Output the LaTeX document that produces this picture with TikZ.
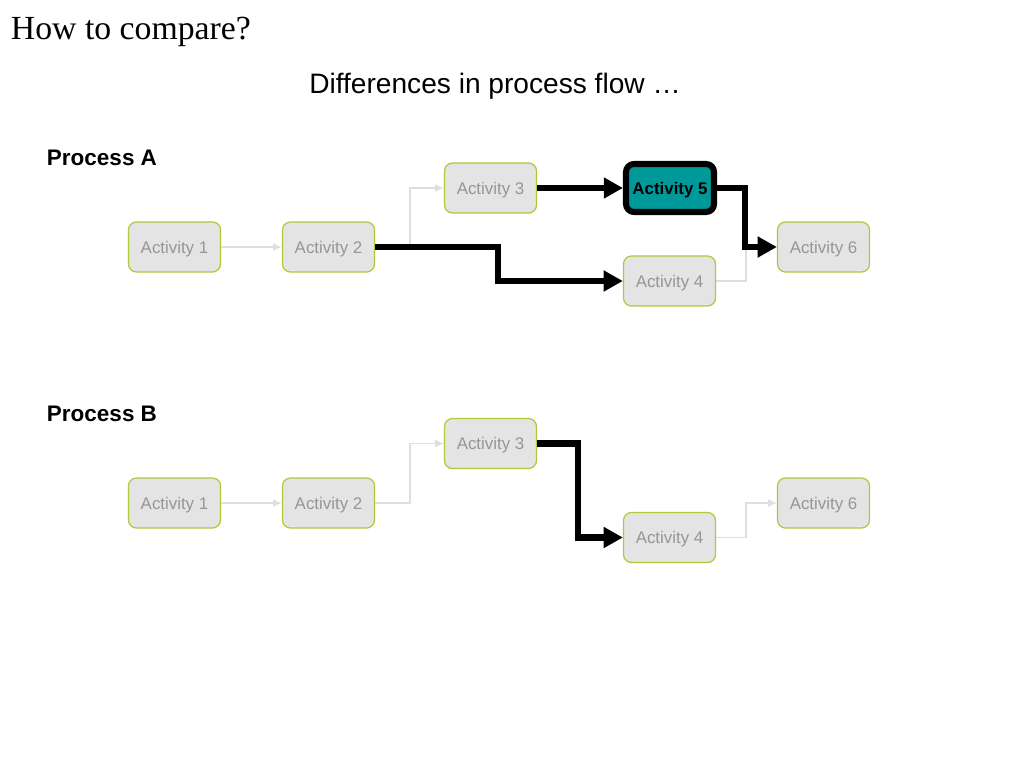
\documentclass[tikz,border=0pt]{standalone}
\usepackage{fontspec}
\setmainfont{Liberation Sans}
\newfontfamily\titlefont{Liberation Serif}
\usetikzlibrary{arrows.meta}
\tikzset{>=latex}
\definecolor{boxgray}{RGB}{228,228,228}
\definecolor{boxgreen}{RGB}{170,204,60}
\definecolor{textgray}{RGB}{150,150,150}
\definecolor{linegray}{RGB}{222,222,222}
\definecolor{flowteal}{RGB}{0,153,153}
\tikzstyle{actbox}=[draw=boxgreen,fill=boxgray,line width=0.9pt,rounded corners=0.2cm,minimum width=2.3cm,minimum height=1.25cm,inner sep=0pt,text depth=0pt,text=textgray,font=\fontsize{12}{14}\selectfont]
\tikzstyle{hotbox}=[draw=black,fill=flowteal,line width=4.3pt,rounded corners=0.2cm,minimum width=2.2cm,minimum height=1.2cm,inner sep=0pt,text depth=0pt,font=\fontsize{12}{14}\selectfont\bfseries]
\tikzstyle{grayline}=[draw=linegray,line width=1pt,-{Latex[length=2.2mm,width=2mm]}]
\tikzstyle{blackline}=[draw=black,line width=4.3pt,-{Triangle[length=4.8mm,width=5mm]}]

\begin{document}
\begin{tikzpicture}[x=0.025cm,y=-0.025cm]
    \useasboundingbox (0,0) rectangle (1024,768);
    \node[anchor=west,font=\titlefont\fontsize{24}{28}\selectfont] (title) at (6,32) {How to compare?};
    \node[font=\fontsize{20}{24}\selectfont] (sub) at (495,86) {Differences in process flow …};

    \node[anchor=west,font=\fontsize{16}{19}\selectfont\bfseries] (procA) at (42,158) {Process A};
    \node[actbox] (A1) at (174.5,247) {Activity 1};
    \node[actbox] (A2) at (328.5,247) {Activity 2};
    \node[actbox] (A3) at (490.5,188) {Activity 3};
    \node[hotbox] (A5) at (670,188) {Activity 5};
    \node[actbox] (A4) at (669.5,281) {Activity 4};
    \node[actbox] (A6) at (823.5,247) {Activity 6};

    \draw[grayline] (A1) -- (A2);
    \draw[grayline] (A2.east) -- ++(35,0) |- (A3.west);
    \draw[grayline] (A4.east) -- ++(30,0) |- (A6.west);
    \draw[blackline] (A2.east) -- ++(123,0) |- (A4.west);
    \draw[blackline] (A3) -- (A5);
    \draw[blackline] (A5.east) -- ++(28,0) |- (A6.west);

    \node[anchor=west,font=\fontsize{16}{19}\selectfont\bfseries] (procB) at (42,414) {Process B};
    \node[actbox] (B1) at (174.5,503) {Activity 1};
    \node[actbox] (B2) at (328.5,503) {Activity 2};
    \node[actbox] (B3) at (490.5,443.5) {Activity 3};
    \node[actbox] (B4) at (669.5,537.5) {Activity 4};
    \node[actbox] (B6) at (823.5,503) {Activity 6};

    \draw[grayline] (B1) -- (B2);
    \draw[grayline] (B2.east) -- ++(35,0) |- (B3.west);
    \draw[grayline] (B4.east) -- ++(30,0) |- (B6.west);
    \draw[blackline] (B3.east) -- ++(41,0) |- (B4.west);
  \end{tikzpicture}
\end{document}
